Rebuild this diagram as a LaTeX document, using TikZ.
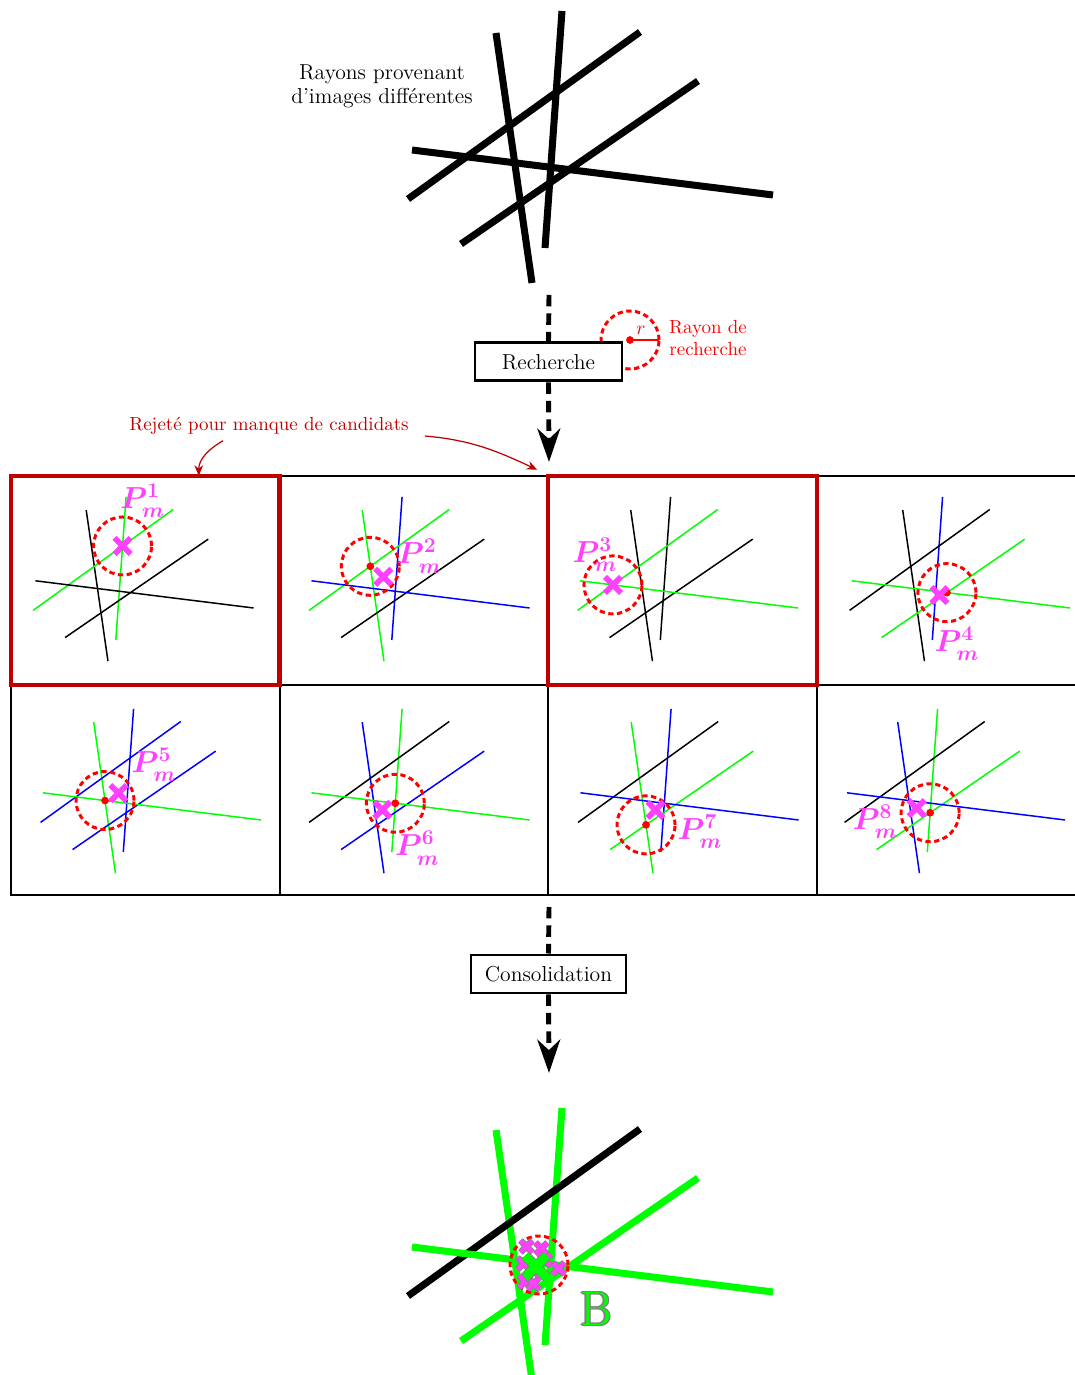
\documentclass[tikz,border=0pt]{standalone}
\usepackage{fontspec}
\usepackage{amsmath}
\usepackage{tikz}
\usetikzlibrary{arrows.meta,shapes.misc,calc,positioning}
\usepackage{xcolor}
\definecolor{darkred}{RGB}{192,0,0}
\definecolor{pinkm}{RGB}{255,64,255}

% the five rays, colours of A..E
\newcommand{\rays}[5]{%
  \coordinate (A1) at (-1.88,2.28);  \coordinate (A2) at (-1.16,-2.72);
  \coordinate (B1) at (-0.56,2.72);  \coordinate (B2) at (-0.90,-2.02);
  \coordinate (C1) at (1.00,2.30);   \coordinate (C2) at (-3.64,-1.04);
  \coordinate (D1) at (2.16,1.32);   \coordinate (D2) at (-2.58,-1.94);
  \coordinate (E1) at (-3.56,-0.06); \coordinate (E2) at (3.66,-0.96);
  \draw[#1] (A1) -- (A2);
  \draw[#2] (B1) -- (B2);
  \draw[#3] (C1) -- (C2);
  \draw[#4] (D1) -- (D2);
  \draw[#5] (E1) -- (E2);
}

\begin{document}
\begin{tikzpicture}[
    thick rays/.style={line width=4pt},
    thin rays/.style={line width=0.85pt},
    cell/.style={rectangle, draw, line width=0.9pt, minimum width=5.37cm, minimum height=4.19cm, inner sep=0pt, outer sep=0pt},
    rejected frame/.style={draw=darkred, line width=2.3pt},
    stagebox/.style={rectangle, draw, line width=1.7pt, fill=white, minimum height=0.76cm, inner sep=0pt, font=\fontsize{12.3}{14}\selectfont},
    flow/.style={line width=2.8pt, dash pattern=on 6.5pt off 4pt},
    flowtip/.style={flow, -{Stealth[length=19pt, width=13pt, inset=6pt]}},
    searchzone/.style={red, line width=1.7pt, dash pattern=on 3pt off 2pt},
    pcross/.style={cross out, draw=pinkm, line width=3.2pt, minimum size=0.21cm, inner sep=0pt},
    bcross/.style={cross out, draw=gray, double=pinkm, double distance=2.8pt, line width=0.5pt, minimum size=0.22cm, inner sep=0pt},
    gcross/.style={cross out, draw=gray, double=green, double distance=5pt, line width=0.5pt, minimum size=0.42cm, inner sep=0pt},
    plabel/.style={text=pinkm, inner sep=0pt, font=\fontsize{17}{20}\selectfont\boldmath},
    note/.style={text=darkred, font=\fontsize{10.8}{12.5}\selectfont},
    rejarrow/.style={darkred, line width=0.7pt, -{Stealth[length=6pt, width=5pt]}}
]
    \useasboundingbox (0,0) rectangle (21.5,27.5);

    % ---- Input rays ----
    \begin{scope}[shift={(11.8,24.56)}, thick rays]
        \rays{black}{black}{black}{black}{black}
    \end{scope}
    \node[align=center, font=\fontsize{12.3}{13.6}\selectfont] (raystext) at (7.64,25.78) {Rayons provenant\\d'images différentes};

    % ---- Search ----
    \coordinate (raysbottom) at (10.98,21.60);
    \coordinate (gridtop) at (10.98,18.26);
    \coordinate (rc) at (12.60,20.70);
    \draw[searchzone] (rc) circle (0.58);
    \draw[red, line width=1.2pt] (rc) -- ++(0.58,0);
    \fill[red] (rc) circle (2.2pt);
    \node[red, font=\fontsize{10.8}{12.5}\selectfont] (rlabel) at (12.82,20.90) {$r$};
    \node[red, align=center, font=\fontsize{10.8}{12.5}\selectfont] (radiustext) at (14.16,20.74) {Rayon de\\recherche};
    \node[stagebox, minimum width=2.94cm] (recherche) at (10.97,20.26) {Recherche};
    \draw[flow] (raysbottom) -- (recherche.north);
    \draw[flowtip] (recherche.south) -- (gridtop);

    % ---- Cells ----
    \node[cell] (cell1) at (2.905,15.89) {};
    \node[cell] (cell2) at (8.28,15.89) {};
    \node[cell] (cell3) at (13.65,15.89) {};
    \node[cell] (cell4) at (19.03,15.89) {};
    \node[cell] (cell5) at (2.905,11.70) {};
    \node[cell] (cell6) at (8.28,11.70) {};
    \node[cell] (cell7) at (13.65,11.70) {};
    \node[cell] (cell8) at (19.03,11.70) {};
    \draw[rejected frame] (cell1.south west) rectangle (cell1.north east);
    \draw[rejected frame] (cell3.south west) rectangle (cell3.north east);

    \node[note] (rejected) at (5.38,18.98) {Rejeté pour manque de candidats};
    \draw[rejarrow] ([xshift=-0.92cm]rejected.south) to[out=210, in=90] ([xshift=1.07cm]cell1.north);
    \draw[rejarrow] ([shift={(0.2,-0.2)}]rejected.east) to[out=-5, in=155] ([shift={(-0.22,0.12)}]cell3.north west);

    % cell 1
    \begin{scope}[shift={(2.86,15.92)}, scale=0.604, thin rays]
        \rays{black}{green}{green}{black}{black}
        \coordinate (p1) at (intersection of B1--B2 and C1--C2);
    \end{scope}
    \draw[searchzone] (p1) circle (0.58);
    \fill[red] (p1) circle (2.2pt);
    \node[pcross] (x1) at (p1) {};
    \node[plabel] (l1) at ([shift={(0.40,0.90)}]p1) {$P_m^1$};

    % cell 2
    \begin{scope}[shift={(8.38,15.92)}, scale=0.604, thin rays]
        \rays{green}{blue}{green}{black}{blue}
        \coordinate (p2) at (intersection of A1--A2 and C1--C2);
    \end{scope}
    \draw[searchzone] (p2) circle (0.58);
    \fill[red] (p2) circle (2.2pt);
    \node[pcross] (x2) at ([shift={(0.26,-0.21)}]p2) {};
    \node[plabel] (l2) at ([shift={(0.98,0.20)}]p2) {$P_m^2$};

    % cell 3
    \begin{scope}[shift={(13.75,15.92)}, scale=0.604, thin rays]
        \rays{black}{black}{green}{black}{green}
        \coordinate (p3) at (intersection of C1--C2 and E1--E2);
    \end{scope}
    \draw[searchzone] (p3) circle (0.58);
    \fill[red] (p3) circle (2.2pt);
    \node[pcross] (x3) at (p3) {};
    \node[plabel] (l3) at ([shift={(-0.36,0.60)}]p3) {$P_m^3$};

    % cell 4
    \begin{scope}[shift={(19.19,15.92)}, scale=0.604, thin rays]
        \rays{black}{blue}{black}{green}{green}
        \coordinate (p4) at (intersection of D1--D2 and E1--E2);
    \end{scope}
    \draw[searchzone] (p4) circle (0.58);
    \fill[red] (p4) circle (2.2pt);
    \node[pcross] (x4) at ([shift={(-0.15,-0.05)}]p4) {};
    \node[plabel] (l4) at ([shift={(0.20,-1.02)}]p4) {$P_m^4$};

    % cell 5
    \begin{scope}[shift={(3.01,11.68)}, scale=0.604, thin rays]
        \rays{green}{blue}{blue}{blue}{green}
        \coordinate (p5) at (intersection of A1--A2 and E1--E2);
    \end{scope}
    \draw[searchzone] (p5) circle (0.58);
    \fill[red] (p5) circle (2.2pt);
    \node[pcross] (x5) at ([shift={(0.27,0.15)}]p5) {};
    \node[plabel] (l5) at ([shift={(0.98,0.72)}]p5) {$P_m^5$};

    % cell 6
    \begin{scope}[shift={(8.38,11.68)}, scale=0.604, thin rays]
        \rays{blue}{green}{black}{blue}{green}
        \coordinate (p6) at (intersection of B1--B2 and E1--E2);
    \end{scope}
    \draw[searchzone] (p6) circle (0.58);
    \fill[red] (p6) circle (2.2pt);
    \node[pcross] (x6) at ([shift={(-0.26,-0.13)}]p6) {};
    \node[plabel] (l6) at ([shift={(0.44,-0.90)}]p6) {$P_m^6$};

    % cell 7
    \begin{scope}[shift={(13.76,11.68)}, scale=0.604, thin rays]
        \rays{green}{blue}{black}{green}{blue}
        \coordinate (p7) at (intersection of A1--A2 and D1--D2);
    \end{scope}
    \draw[searchzone] (p7) circle (0.58);
    \fill[red] (p7) circle (2.2pt);
    \node[pcross] (x7) at ([shift={(0.19,0.30)}]p7) {};
    \node[plabel] (l7) at ([shift={(1.08,-0.14)}]p7) {$P_m^7$};

    % cell 8
    \begin{scope}[shift={(19.09,11.68)}, scale=0.604, thin rays]
        \rays{blue}{green}{black}{green}{blue}
        \coordinate (p8) at (intersection of B1--B2 and D1--D2);
    \end{scope}
    \draw[searchzone] (p8) circle (0.58);
    \fill[red] (p8) circle (2.2pt);
    \node[pcross] (x8) at ([shift={(-0.27,0.09)}]p8) {};
    \node[plabel] (l8) at ([shift={(-1.10,-0.18)}]p8) {$P_m^8$};

    % ---- Consolidation ----
    \coordinate (gridbottom) at (10.98,9.36);
    \coordinate (raysend) at (10.98,6.04);
    \node[stagebox, minimum width=3.10cm] (consolidation) at (10.97,8.02) {Consolidation};
    \draw[flow] (gridbottom) -- (consolidation.north);
    \draw[flowtip] (consolidation.south) -- (raysend);

    % ---- Result ----
    \begin{scope}[shift={(11.8,2.62)}, thick rays]
        \rays{green}{green}{black}{green}{green}
    \end{scope}
    \coordinate (bc) at (10.78,2.20);
    \draw[searchzone] (bc) circle (0.58);
    \node[bcross] (b1) at ([shift={(-0.25,0.37)}]bc) {};
    \node[bcross] (b2) at ([shift={(0.05,0.33)}]bc) {};
    \node[bcross] (b3) at ([shift={(-0.31,0.03)}]bc) {};
    \node[bcross] (b4) at ([shift={(0.39,-0.07)}]bc) {};
    \node[bcross] (b5) at ([shift={(-0.28,-0.33)}]bc) {};
    \node[bcross] (b6) at ([shift={(-0.11,-0.37)}]bc) {};
    \node[bcross] (b7) at ([shift={(0.12,0.10)}]bc) {};
    \node[bcross] (b8) at ([shift={(-0.10,-0.12)}]bc) {};
    \node[gcross] (bx) at ([shift={(-0.06,-0.03)}]bc) {};
    \foreach \a in {0,45,...,315}
        \node[text=gray, font=\fontsize{27.5}{30}\selectfont] (bo\a) at ([shift={(\a:0.7pt)}]11.92,1.32) {B};
    \node[text=green, font=\fontsize{27.5}{30}\selectfont] (bname) at (11.92,1.32) {B};
\end{tikzpicture}
\end{document}
